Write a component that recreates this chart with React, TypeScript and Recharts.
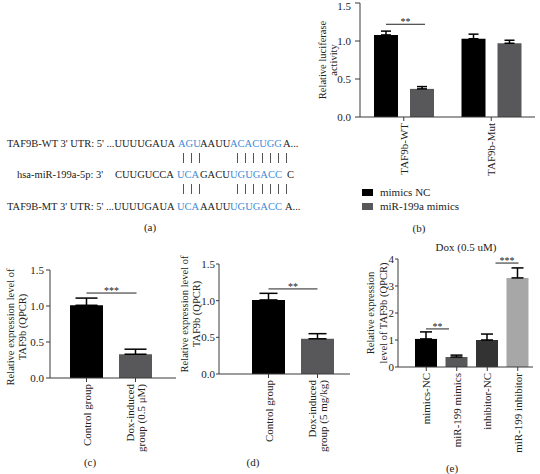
import React from 'react';
import { BarChart, Bar, XAxis, YAxis, ErrorBar, Cell, Legend, LabelList } from 'recharts';

const FONT = '"Liberation Serif", "Times New Roman", serif';
const INK = '#222222';
const AXIS = '#3a3a3a';
const BLACK = '#000000';
const GREY = '#58585a';
const DARK = '#333333';
const LIGHT = '#a7a7a7';
const BLUE = '#3d8bd6';

// (b) luciferase reporter
const LUC_CATEGORIES = ['TAF9b-WT', 'TAF9b-Mut'];
const LUC_SERIES = ['mimics NC', 'miR-199a mimics'];
const LUC_NC = [1.08, 1.03];
const LUC_NC_ERR = [0.05, 0.06];
const LUC_MIMICS = [0.37, 0.97];
const LUC_MIMICS_ERR = [0.03, 0.04];

// (c) cells
const CELL_GROUPS = ['Control group', 'Dox-induced\ngroup (0.5 \u03bcM)'];
const CELL_VALUES = [1.01, 0.33];
const CELL_ERR = [0.1, 0.07];

// (d) mice
const MOUSE_GROUPS = ['Control group', 'Dox-induced\ngroup (5 mg/kg)'];
const MOUSE_VALUES = [1.01, 0.48];
const MOUSE_ERR = [0.09, 0.07];

// (e) transfection
const TRANSFECT_GROUPS = ['mimics-NC', 'miR-199 mimics', 'inhibitor-NC', 'miR-199 inhibitor'];
const TRANSFECT_VALUES = [1.04, 0.37, 1.0, 3.3];
const TRANSFECT_ERR = [0.26, 0.07, 0.22, 0.37];
const TRANSFECT_COLORS = [BLACK, GREY, DARK, LIGHT];

const RATIO_TICKS = [0, 0.5, 1, 1.5];
const FOLD_TICKS = [0, 1, 2, 3, 4];

const tickStyle = { fontFamily: FONT, fontSize: 11, fill: INK };

const RotatedTick = (props: any) => {
  const { x, y, payload } = props;
  const lines = String(payload.value).split('\n');
  const lh = 11;
  return (
    <g transform={`translate(${x},${y})`}>
      <text transform="rotate(-90)" textAnchor="end" fontFamily={FONT} fontSize={11} fill={INK}>
        {lines.map((l, k) => (
          <tspan key={k} x={0} y={(k - (lines.length - 1) / 2) * lh + 4}>
            {l}
          </tspan>
        ))}
      </text>
    </g>
  );
};

const axisTitle = (lines: string[], dx: number, lh = 12, dy = 0) => (props: any) => {
  const vb = props.viewBox || { x: 0, y: 0, width: 0, height: 0 };
  const cy = vb.y + vb.height / 2 + dy;
  return (
    <g>
      {lines.map((l, k) => {
        const cx = vb.x + dx + (k - (lines.length - 1) / 2) * lh;
        return (
          <text key={k} x={cx} y={cy + 3.7} transform={`rotate(-90, ${cx}, ${cy})`} textAnchor="middle"
            fontFamily={FONT} fontSize={10.5} fill={INK}>
            {l}
          </text>
        );
      })}
    </g>
  );
};

// significance bracket drawn from the bar it belongs to
const sigLabel = (index: number, level: number, dx1: number, dx2: number, text: string) => (props: any) => {
  if (props.index !== index) return null;
  const vb = props.viewBox && props.viewBox.width !== undefined ? props.viewBox : props;
  const x = Number(vb.x), y = Number(vb.y), width = Number(vb.width), height = Number(vb.height);
  const value = Array.isArray(props.value) ? props.value[1] : Number(props.value);
  const zero = y + height;
  const ly = zero - (height / value) * level;
  const cx = x + width / 2;
  return (
    <g>
      <line x1={cx + dx1} x2={cx + dx2} y1={ly} y2={ly} stroke={INK} strokeWidth={1} />
      <text x={cx + (dx1 + dx2) / 2} y={ly + 1} textAnchor="middle" fontFamily={FONT} fontSize={10} fill={INK}>
        {text}
      </text>
    </g>
  );
};

const LegendContent = (props: any) => {
  const items = [...(props.payload || [])].sort(
    (a: any, b: any) => LUC_SERIES.indexOf(a.value) - LUC_SERIES.indexOf(b.value)
  );
  return (
    <div style={{ fontFamily: FONT, fontSize: 11, color: INK }}>
      {items.map((p: any) => (
        <div key={p.value} style={{ display: 'flex', alignItems: 'center', height: 14 }}>
          <span style={{ display: 'inline-block', width: 11, height: 7, background: p.color, marginRight: 7 }} />
          {p.value}
        </div>
      ))}
    </div>
  );
};

const LuciferaseChart = () => {
  const data = LUC_CATEGORIES.map((name, i) => ({
    name,
    nc: LUC_NC[i],
    ncErr: [0, LUC_NC_ERR[i]],
    mimics: LUC_MIMICS[i],
    mimicsErr: [0, LUC_MIMICS_ERR[i]],
  }));
  return (
    <BarChart width={250} height={215} data={data} margin={{ top: 3, right: 5, bottom: 35, left: 0 }} barSize={24} barGap={12}>
      <XAxis dataKey="name" height={63} interval={0} tick={<RotatedTick />} tickSize={4} tickMargin={2}
        axisLine={{ stroke: AXIS }} tickLine={{ stroke: AXIS }} />
      <YAxis domain={[0, 1.5]} ticks={RATIO_TICKS} width={70} tickFormatter={(v: number) => v.toFixed(1)}
        tick={tickStyle} tickSize={5} tickMargin={4} axisLine={{ stroke: AXIS }} tickLine={{ stroke: AXIS }}
        label={{ content: axisTitle(['Relative luciferase', 'activity'], 38, 11) }} />
      <Bar dataKey="nc" name={LUC_SERIES[0]} fill={BLACK} isAnimationActive={false}>
        <ErrorBar dataKey="ncErr" width={5} stroke={BLACK} strokeWidth={1.5} />
        <LabelList content={sigLabel(0, 1.22, 0, 39, '**')} />
      </Bar>
      <Bar dataKey="mimics" name={LUC_SERIES[1]} fill={GREY} isAnimationActive={false}>
        <ErrorBar dataKey="mimicsErr" width={5} stroke={BLACK} strokeWidth={1.5} />
      </Bar>
      <Legend content={<LegendContent />} layout="horizontal" verticalAlign="middle" align="center"
        wrapperStyle={{ left: 72, top: 185, width: 'auto' }} />
    </BarChart>
  );
};

const TwoGroupChart = ({ groups, values, errs, width, height, top, right, yWidth, xHeight, padLeft, padRight, capWidth, sig, titleDx, titleDy, yTickSize, yTickMargin }: any) => {
  const data = groups.map((name: string, i: number) => ({ name, value: values[i], err: [0, errs[i]] }));
  const colors = [BLACK, GREY];
  return (
    <BarChart width={width} height={height} data={data} margin={{ top, right, bottom: 0, left: 0 }} barSize={33}>
      <XAxis dataKey="name" height={xHeight} interval={0} padding={{ left: padLeft, right: padRight }} tick={<RotatedTick />}
        tickSize={4} tickMargin={2} axisLine={{ stroke: AXIS }} tickLine={{ stroke: AXIS }} />
      <YAxis domain={[0, 1.5]} ticks={RATIO_TICKS} width={yWidth} tickFormatter={(v: number) => v.toFixed(1)}
        tick={tickStyle} tickSize={yTickSize} tickMargin={yTickMargin} axisLine={{ stroke: AXIS }} tickLine={{ stroke: AXIS }}
        label={{ content: axisTitle(['Relative expression level of', 'TAF9b (QPCR)'], titleDx, 12, titleDy) }} />
      <Bar dataKey="value" isAnimationActive={false}>
        {data.map((_: any, i: number) => (
          <Cell key={i} fill={colors[i]} />
        ))}
        <ErrorBar dataKey="err" width={capWidth} stroke={BLACK} strokeWidth={1.5} />
        <LabelList content={sig} />
      </Bar>
    </BarChart>
  );
};

const TransfectChart = () => {
  const data = TRANSFECT_GROUPS.map((name, i) => ({ name, value: TRANSFECT_VALUES[i], err: [0, TRANSFECT_ERR[i]] }));
  const sigA = sigLabel(0, 1.41, 0, 23, '**');
  const sigB = sigLabel(3, 3.85, -22, 1, '***');
  return (
    <BarChart width={190} height={234} data={data} margin={{ top: 19, right: 7, bottom: 0, left: 0 }} barSize={22}>
      <XAxis dataKey="name" height={107} interval={0} padding={{ left: 13, right: 0 }} tick={<RotatedTick />}
        tickSize={4} tickMargin={2} axisLine={{ stroke: AXIS }} tickLine={{ stroke: AXIS }} />
      <YAxis domain={[0, 4]} ticks={FOLD_TICKS} width={48} tick={tickStyle} tickSize={3} tickMargin={1}
        axisLine={{ stroke: AXIS }} tickLine={{ stroke: AXIS }}
        label={{ content: axisTitle(['Relative expression', 'level of TAF9b (QPCR)'], 27, 13) }} />
      <Bar dataKey="value" isAnimationActive={false}>
        {data.map((_, i) => (
          <Cell key={i} fill={TRANSFECT_COLORS[i]} />
        ))}
        <ErrorBar dataKey="err" width={6} stroke={BLACK} strokeWidth={1.5} />
        <LabelList content={(p: any) => sigA(p) || sigB(p)} />
      </Bar>
    </BarChart>
  );
};

// sequence alignment of panel (a): [text, start x, highlighted]
const WT_ROW: [string, number, boolean][] = [
  ["TAF9B-WT 3' UTR: 5' ...UUUUGAUA", 7, false],
  ['AGU', 178, true],
  ['AAUU', 200, false],
  ['ACACUGG', 230, true],
  ['A...', 283, false],
];
const MIR_ROW: [string, number, boolean][] = [
  ["hsa-miR-199a-5p: 3'", 17, false],
  ['CUUGUCCA', 115, false],
  ['UCA', 177, true],
  ['GACU', 200, false],
  ['UGUGACC', 230, true],
  ['C', 287, false],
];
const MT_ROW: [string, number, boolean][] = [
  ["TAF9B-MT 3' UTR: 5' ...UUUUGAUA", 7, false],
  ['UCA', 177, true],
  ['AAUU', 200, false],
  ['UGUGACC', 230, true],
  ['A...', 285, false],
];
const PAIR_X = [183, 191, 199, 237, 245, 253, 262, 270, 278, 286];

const SeqRow = ({ row, y }: { row: [string, number, boolean][]; y: number }) => (
  <text y={y} fontFamily={FONT} fontSize={10.5} fill={INK}>
    {row.map(([t, x0, hi]) => (
      <tspan key={t + x0} x={x0} fill={hi ? BLUE : INK}>
        {t}
      </tspan>
    ))}
  </text>
);

const Annotations = () => (
  <svg width={540} height={474} style={{ position: 'absolute', left: 0, top: 0, pointerEvents: 'none' }}>
    <SeqRow row={WT_ROW} y={147} />
    {PAIR_X.map((x) => (
      <line key={'a' + x} x1={x + 0.5} x2={x + 0.5} y1={153} y2={163} stroke="#555" strokeWidth={1} />
    ))}
    <SeqRow row={MIR_ROW} y={178} />
    {PAIR_X.map((x) => (
      <line key={'b' + x} x1={x + 0.5} x2={x + 0.5} y1={184} y2={194} stroke="#555" strokeWidth={1} />
    ))}
    <SeqRow row={MT_ROW} y={210} />
    <g fontFamily={FONT} fontSize={11} fill={INK} textAnchor="middle">
      <text x={150} y={231}>(a)</text>
      <text x={419} y={232}>(b)</text>
      <text x={90} y={466}>(c)</text>
      <text x={253} y={466}>(d)</text>
      <text x={452} y={472}>(e)</text>
      <text x={466} y={251}>Dox (0.5 uM)</text>
    </g>
  </svg>
);

export default function App() {
  return (
    <div style={{ position: 'absolute', left: 0, top: 0, width: 540, height: 474, background: '#fff', overflow: 'hidden' }}>
      <div style={{ position: 'absolute', left: 290, top: 0 }}>
        <LuciferaseChart />
      </div>
      <div style={{ position: 'absolute', left: 0, top: 245 }}>
        <TwoGroupChart groups={CELL_GROUPS} values={CELL_VALUES} errs={CELL_ERR} width={180} height={229} top={25} right={4}
          yWidth={50} xHeight={96} padLeft={12} padRight={16} capWidth={11} titleDx={16} titleDy={3}
          yTickSize={4} yTickMargin={2} sig={sigLabel(0, 1.18, 0, 50, '***')} />
      </div>
      <div style={{ position: 'absolute', left: 170, top: 245 }}>
        <TwoGroupChart groups={MOUSE_GROUPS} values={MOUSE_VALUES} errs={MOUSE_ERR} width={182} height={229} top={19} right={2}
          yWidth={49} xHeight={100} padLeft={25} padRight={8} capWidth={9} titleDx={20} titleDy={-5}
          yTickSize={3} yTickMargin={1} sig={sigLabel(0, 1.16, 0, 49, '**')} />
      </div>
      <div style={{ position: 'absolute', left: 350, top: 240 }}>
        <TransfectChart />
      </div>
      <Annotations />
    </div>
  );
}
